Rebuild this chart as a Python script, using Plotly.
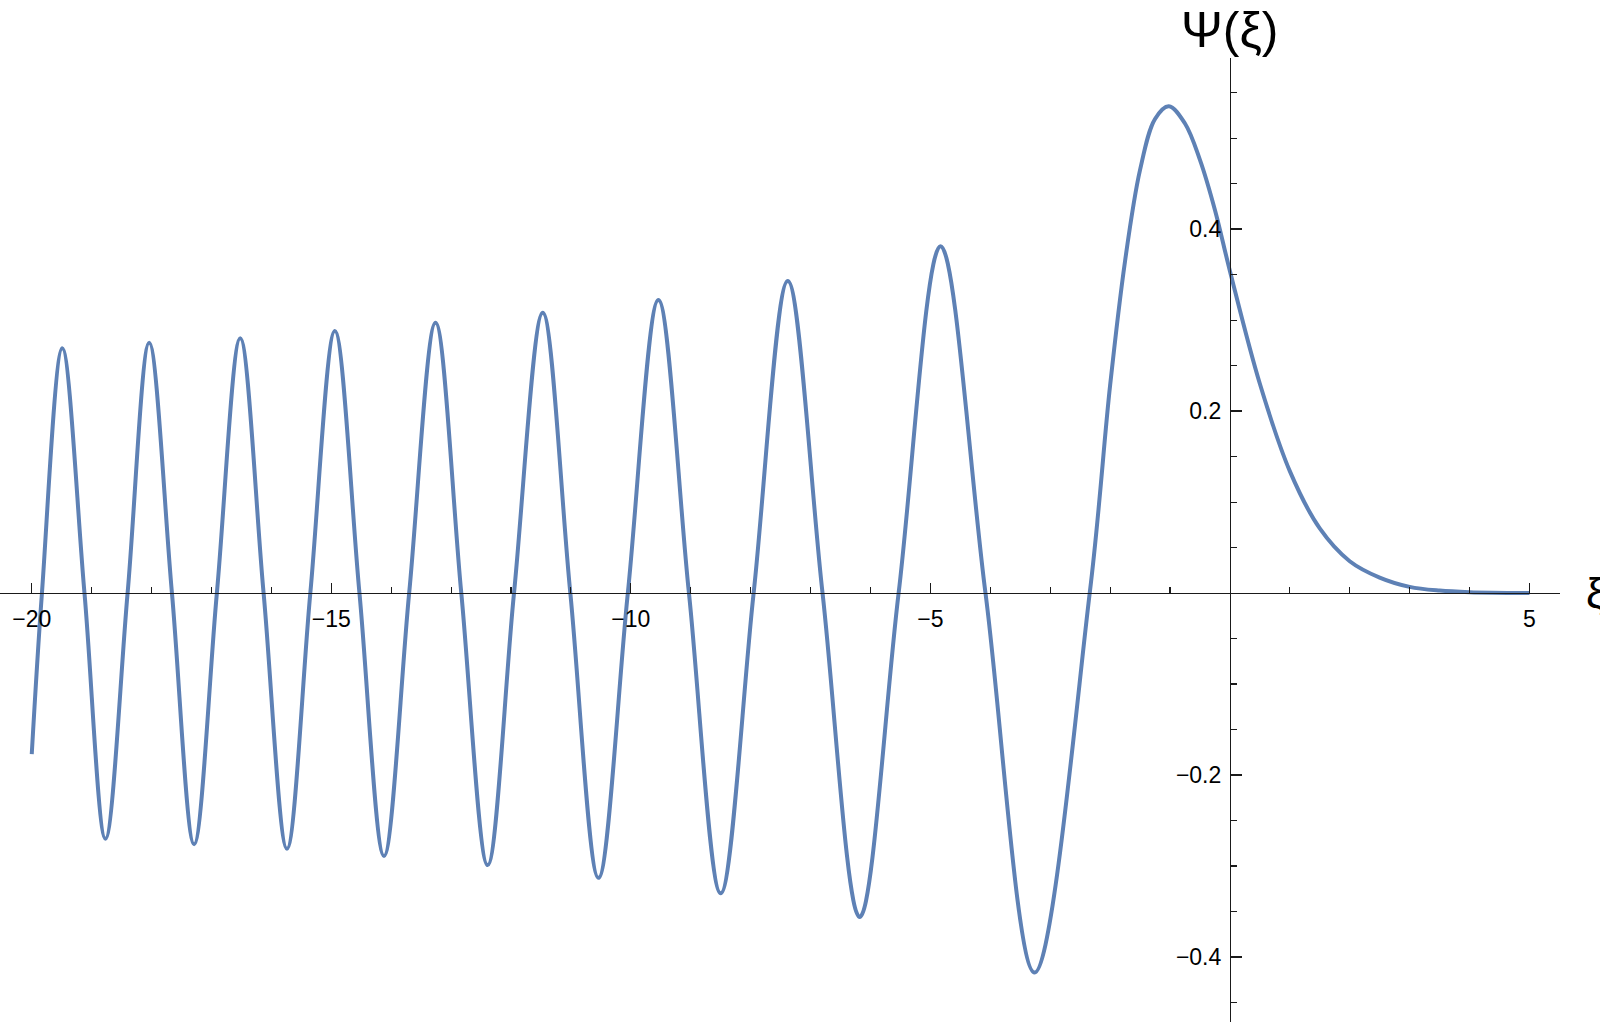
import plotly.graph_objects as go

# Values (extrema, zero crossings, tail points)
xi = [-20.0, -19.83, -19.49, -19.12, -18.77, -18.40, -18.04, -17.66, -17.29,
      -16.91, -16.52, -16.13, -15.74, -15.35, -14.94, -14.53, -14.12, -13.70,
      -13.26, -12.83, -12.39, -11.95, -11.47, -11.01, -10.54, -10.05, -9.54,
      -9.03, -8.50, -7.95, -7.38, -6.80, -6.18, -5.53, -4.83, -4.08, -3.26,
      -2.34, -2.0, -1.75, -1.50, -1.25, -1.02, -0.75, -0.50, -0.25, 0.0, 0.5,
      1.0, 1.5, 2.0, 2.5, 3.0, 3.5, 4.0, 5.0]
psi = [-0.177, 0.0, 0.269, 0.0, -0.270, 0.0, 0.275, 0.0, -0.276,
       0.0, 0.280, 0.0, -0.281, 0.0, 0.288, 0.0, -0.289, 0.0,
       0.297, 0.0, -0.299, 0.0, 0.308, 0.0, -0.313, 0.0, 0.322,
       0.0, -0.330, 0.0, 0.343, 0.0, -0.356, 0.0, 0.381, 0.0, -0.417,
       0.0, 0.228, 0.365, 0.465, 0.521, 0.535, 0.516, 0.476, 0.421, 0.354, 0.230,
       0.134, 0.071, 0.035, 0.017, 0.0068, 0.0027, 0.001, 0.0001]

x_tick_vals = [-20, -15, -10, -5, 5]
x_tick_text = ["\u221220", "\u221215", "\u221210", "\u22125", "5"]
y_tick_vals = [-0.4, -0.2, 0.2, 0.4]
y_tick_text = ["\u22120.4", "\u22120.2", "0.2", "0.4"]

x_range = [-20.53, 5.51]
y_range = [-0.4714, 0.588]

axis_color = "#1a1a1a"
font_family = "Liberation Sans, Arial, sans-serif"

fig = go.Figure()
fig.add_trace(go.Scatter(
    x=xi, y=psi, mode="lines",
    line=dict(color="#5E81B5", width=4, shape="spline", smoothing=1.0),
    hoverinfo="skip", showlegend=False,
))

x_minor = [v for v in range(-20, 6) if v != 0]
y_minor = [round(-0.45 + 0.05 * i, 2) for i in range(21)]
y_minor = [v for v in y_minor if abs(v) > 1e-9]

y_pos_of_xaxis = (0 - y_range[0]) / (y_range[1] - y_range[0])
x_pos_of_yaxis = (0 - x_range[0]) / (x_range[1] - x_range[0])

plot_h = 1025 - 58 - 3

fig.update_layout(
    width=1600, height=1025,
    margin=dict(l=0, r=40, t=58, b=3, autoexpand=False),
    paper_bgcolor="white", plot_bgcolor="white",
    font=dict(family=font_family, size=23, color="black"),
    xaxis=dict(
        range=x_range, anchor="free", position=y_pos_of_xaxis,
        automargin=False,
        showgrid=False, zeroline=False,
        showline=True, linecolor=axis_color, linewidth=1.3,
        tickmode="array", tickvals=x_tick_vals, ticktext=x_tick_text,
        ticks="inside", ticklen=10, tickwidth=1.2, tickcolor=axis_color,
        ticklabelstandoff=5,
        minor=dict(tickmode="array", tickvals=x_minor, ticks="inside",
                   ticklen=6, tickwidth=1.1, tickcolor=axis_color),
        tickfont=dict(size=23),
    ),
    yaxis=dict(
        range=y_range, anchor="free", position=x_pos_of_yaxis,
        automargin=False,
        showgrid=False, zeroline=False,
        showline=True, linecolor=axis_color, linewidth=1.3,
        tickmode="array", tickvals=y_tick_vals, ticktext=y_tick_text,
        ticks="inside", ticklen=11, tickwidth=1.2, tickcolor=axis_color,
        ticklabelstandoff=4,
        minor=dict(tickmode="array", tickvals=y_minor, ticks="inside",
                   ticklen=6, tickwidth=1.1, tickcolor=axis_color),
        tickfont=dict(size=23),
    ),
    annotations=[
        dict(text="\u03a8(\u03be)", xref="paper", yref="paper",
             x=x_pos_of_yaxis, y=1.0 + 28 / plot_h, xanchor="center",
             yanchor="middle", showarrow=False,
             font=dict(size=50, family=font_family)),
        dict(text="\u03be", xref="paper", yref="paper",
             x=1.0, y=y_pos_of_xaxis, xanchor="left", yanchor="middle",
             xshift=24, showarrow=False, font=dict(size=42, family=font_family)),
    ],
)

fig.write_html(
    "out.html",
    config={"displayModeBar": False, "staticPlot": True},
    post_script="document.body.style.margin='0px';"
                "document.body.style.overflow='hidden';",
)
